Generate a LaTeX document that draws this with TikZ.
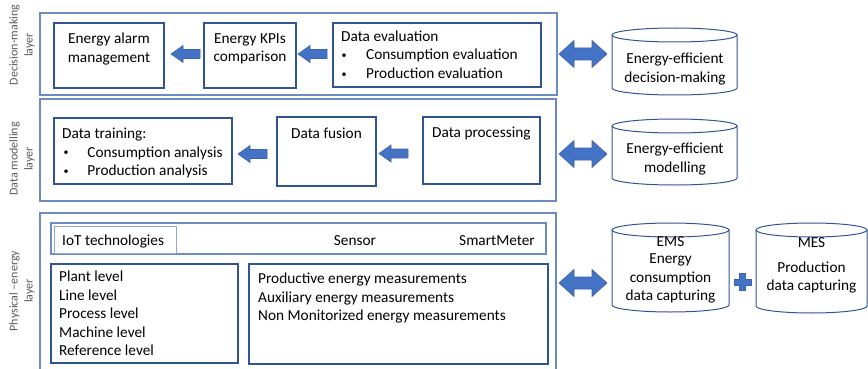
\documentclass[tikz,border=0pt]{standalone}
\usepackage{fontspec}
\setmainfont{Carlito}
\usetikzlibrary{calc}
\definecolor{outerc}{HTML}{6D8BC3}
\definecolor{innerc}{HTML}{2F5597}
\definecolor{lightc}{HTML}{8FA8D6}
\definecolor{arrc}{HTML}{4472C4}
\definecolor{arrd}{HTML}{3A63AD}
\definecolor{sidec}{HTML}{595959}
\tikzset{
  outerbox/.style={draw=outerc, line width=1.4pt},
  innerbox/.style={draw=innerc, line width=1.1pt},
  lightbox/.style={draw=lightc, line width=1pt},
  bodyfont/.style={font=\fontsize{15.3}{18.5}\selectfont, inner sep=0pt, text=black},
  txt/.style={bodyfont, align=left, anchor=north west, execute at begin node={\rule{0pt}{11pt}}},
  ctxt/.style={bodyfont, align=center, anchor=north, execute at begin node={\rule{0pt}{11pt}}},
  stxt/.style={bodyfont},
  sidelabel/.style={rotate=90, align=center, text=sidec, font=\fontsize{12}{15}\selectfont, inner sep=0pt},
  blk/.style={fill=arrc, draw=arrd, line width=0.6pt, line join=miter},
  cylline/.style={draw=innerc, line width=1pt},
}
\newcommand\bul{\raisebox{1.2pt}{\fontsize{10}{10}\selectfont •}}
\newcommand\mybox[6]{\node[#1, minimum width={#5-#3}, minimum height={#6-#4}, anchor=north west, inner sep=0pt, outer sep=0pt] (#2) at (#3,#4) {};}
\newcommand\mycyl[5]{%
  \node[inner sep=0pt, outer sep=0pt, minimum width={#4-#2}, minimum height={#5-#3}] (#1) at ({(#2+#4)/2},{(#3+#5)/2}) {};
  \draw[cylline] ({(#2+#4)/2},{#3+7}) ellipse [x radius={(#4-#2)/2*1pt}, y radius=7pt];
  \draw[cylline] (#2,{#3+7}) -- (#2,{#5-7}) arc[start angle=180, end angle=360, x radius={(#4-#2)/2*1pt}, y radius=7pt] -- (#4,{#3+7});
}
\newcommand\leftblk[1]{\draw[blk] (#1) -- ++(12,-8.5) -- ++(0,4) -- ++(17,0) -- ++(0,9) -- ++(-17,0) -- ++(0,4) -- cycle;}
\newcommand\dblblk[2]{\draw[blk] let \p1=(#1), \p2=(#2) in
  (\x1,\y1) -- (\x1+15pt,\y1+13.5pt) -- (\x1+15pt,\y1+6pt) -- (\x2-15pt,\y1+6pt) -- (\x2-15pt,\y1+13.5pt)
  -- (\x2,\y1) -- (\x2-15pt,\y1-13.5pt) -- (\x2-15pt,\y1-6pt) -- (\x1+15pt,\y1-6pt) -- (\x1+15pt,\y1-13.5pt) -- cycle;}
\begin{document}
\begin{tikzpicture}[x=1pt,y=-1pt]
\useasboundingbox (0,0) rectangle (868,369);
\clip (0,0) rectangle (868,369);
% side labels
\node[sidelabel] (sl1) at (22,45) {Decision-making\\layer};
\node[sidelabel] (sl2) at (22,159) {Data modelling\\layer};
\node[sidelabel] (sl3) at (22,291) {Physical –energy\\layer};
% decision-making layer
\mybox{outerbox}{decOuter}{40}{13}{557}{95}
\mybox{innerbox}{alarm}{54}{23}{164}{88}
\mybox{innerbox}{kpi}{204}{23}{296}{88}
\mybox{innerbox}{eval}{333}{23}{541}{87}
\node[ctxt] (alarmT) at (109,33) {Energy alarm\\management};
\node[ctxt] (kpiT) at (250,33) {Energy KPIs\\comparison};
\node[txt] (evalT) at (341,30.5) {Data evaluation\\\makebox[25pt][l]{\hspace{0.5pt}\bul}Consumption evaluation\\\makebox[25pt][l]{\hspace{0.5pt}\bul}Production evaluation};
\mycyl{cylDec}{612}{28}{737}{95}
\node[ctxt] (cylDecT) at (675,52.8) {Energy-efficient\\decision-making};
% data modelling layer
\mybox{outerbox}{modOuter}{40}{99}{556}{201}
\mybox{innerbox}{train}{54}{118}{232}{184}
\mybox{innerbox}{fusion}{277}{117}{376}{186}
\mybox{innerbox}{proc}{423}{117}{540}{184}
\node[txt] (trainT) at (62,127.8) {Data training:\\\makebox[25.3pt][l]{\hspace{1.5pt}\bul}Consumption analysis\\\makebox[25.3pt][l]{\hspace{1.5pt}\bul}Production analysis};
\node[txt] (fusionT) at (291,127.5) {Data fusion};
\node[txt] (procT) at (432,126) {Data processing};
\mycyl{cylMod}{612}{119}{737}{185}
\node[ctxt] (cylModT) at (675,143) {Energy-efficient\\modelling};
% physical layer
\mybox{outerbox}{phyOuter}{40}{213}{556}{385}
\mybox{outerbox}{iot}{51}{223}{546}{254}
\mybox{lightbox}{iotTech}{54}{226}{176}{253}
\node[stxt, anchor=base west] (iotT) at (62,245.3) {IoT technologies};
\node[stxt, anchor=base] (sensorT) at (355,245.8) {Sensor};
\node[stxt, anchor=base east] (smT) at (535,245.8) {SmartMeter};
\mybox{innerbox}{levels}{51}{264}{238}{363}
\mybox{innerbox}{meas}{249}{264}{548}{364}
\node[txt] (levelsT) at (59,271) {Plant level\\Line level\\Process level\\Machine level\\Reference level};
\node[txt] (measT) at (258,273) {Productive energy measurements\\Auxiliary energy measurements\\Non Monitorized energy measurements};
\mycyl{ems}{612}{223}{729}{312}
\mycyl{mes}{756}{223}{867}{313}
\node[ctxt] (emsT) at (670.5,236.5) {EMS\\[-1.2pt]Energy\\consumption\\data capturing};
\node[stxt, anchor=base] (mesT) at (811.5,247) {MES};
\node[ctxt] (mesT2) at (811.5,261.5) {Production\\data capturing};
% block arrows
\coordinate (t1) at ($(alarm.east)+(7,-1.5)$);
\coordinate (t2) at ($(kpi.east)+(2,-1.5)$);
\coordinate (t3) at ($(train.east)+(6,3)$);
\coordinate (t4) at ($(fusion.east)+(3,2)$);
\leftblk{t1}
\leftblk{t2}
\leftblk{t3}
\leftblk{t4}
\coordinate (d1a) at ($(decOuter.east)+(2,0)$);
\coordinate (d1b) at ($(cylDec.west)+(-5,0)$);
\coordinate (d2a) at ($(modOuter.east)+(3,4)$);
\coordinate (d2b) at ($(cylMod.west)+(-5,0)$);
\coordinate (d3a) at ($(phyOuter.east)+(3,-16)$);
\coordinate (d3b) at ($(ems.west)+(-5,0)$);
\dblblk{d1a}{d1b}
\dblblk{d2a}{d2b}
\dblblk{d3a}{d3b}
% plus sign
\coordinate (plusC) at ($(ems.east)!0.5!(mes.west)+(0,14.5)$);
\draw[blk] (plusC) ++(-3,-8.5) -- ++(6,0) -- ++(0,5.5) -- ++(5.5,0) -- ++(0,6) -- ++(-5.5,0) -- ++(0,5.5) -- ++(-6,0) -- ++(0,-5.5) -- ++(-5.5,0) -- ++(0,-6) -- ++(5.5,0) -- cycle;
\end{tikzpicture}
\end{document}
